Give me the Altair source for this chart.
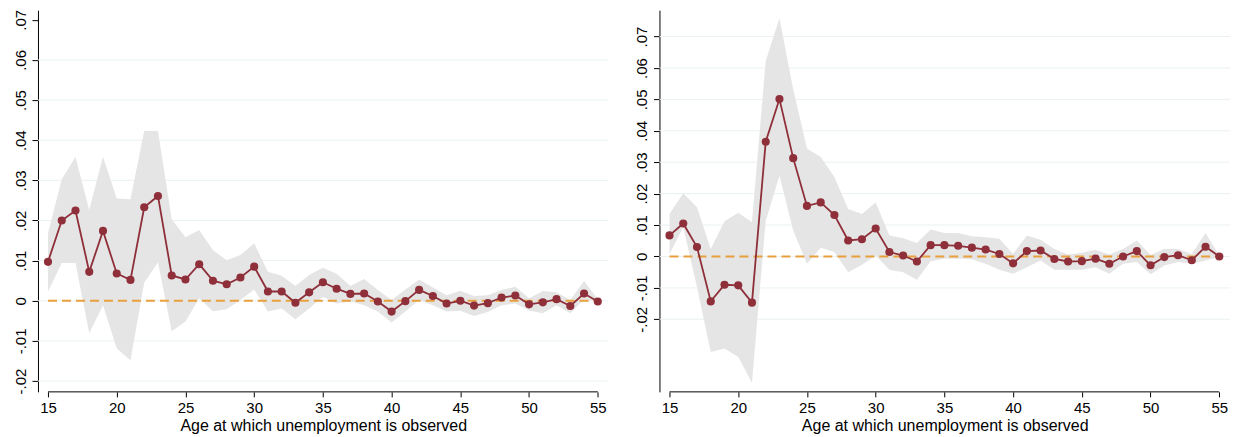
import altair as alt
import pandas as pd

ages = list(range(15, 56))

left_coef = [0.0097, 0.0200, 0.0225, 0.0072, 0.0174, 0.0068, 0.0052, 0.0233, 0.0261, 0.0063,
             0.0053, 0.0091, 0.0050, 0.0041, 0.0058, 0.0085, 0.0023, 0.0023, -0.0005, 0.0021,
             0.0046, 0.0030, 0.0017, 0.0018, -0.0002, -0.0027, -0.0001, 0.0027, 0.0012, -0.0007,
             0.0000, -0.0012, -0.0006, 0.0008, 0.0013, -0.0009, -0.0004, 0.0004, -0.0013, 0.0018,
             -0.0002]
left_hi = [0.0168, 0.0303, 0.0358, 0.0226, 0.0359, 0.0255, 0.0253, 0.0423, 0.0423, 0.0203,
           0.0158, 0.0176, 0.0126, 0.0101, 0.0114, 0.0143, 0.0072, 0.0062, 0.0037, 0.0064,
           0.0082, 0.0067, 0.0037, 0.0054, 0.0027, 0.0002, 0.0028, 0.0053, 0.0033, 0.0014,
           0.0025, 0.0012, 0.0014, 0.0027, 0.0035, 0.0006, 0.0024, 0.0021, 0.0002, 0.0049,
           0.0004]
left_lo = [0.0023, 0.0094, 0.0094, -0.0081, -0.0011, -0.0119, -0.0148, 0.0045, 0.0096, -0.0076,
           -0.0052, 0.0006, -0.0026, -0.0021, 0.0002, 0.0028, -0.0027, -0.0019, -0.0046, -0.0019,
           0.0010, -0.0007, -0.0002, -0.0011, -0.0027, -0.0054, -0.0027, 0.0002, -0.0011, -0.0027,
           -0.0025, -0.0038, -0.0028, -0.0011, -0.0007, -0.0024, -0.0031, -0.0011, -0.0031, 0.0004,
           -0.0002]

right_coef = [0.0067, 0.0105, 0.0030, -0.0143, -0.0090, -0.0092, -0.0147, 0.0365, 0.0501, 0.0313,
              0.0161, 0.0172, 0.0132, 0.0051, 0.0055, 0.0089, 0.0014, 0.0003, -0.0016, 0.0036,
              0.0036, 0.0034, 0.0028, 0.0022, 0.0008, -0.0022, 0.0017, 0.0019, -0.0008, -0.0016,
              -0.0015, -0.0007, -0.0023, 0.0000, 0.0017, -0.0028, -0.0002, 0.0004, -0.0012, 0.0031,
              0.0000]
right_hi = [0.0135, 0.0201, 0.0157, 0.0024, 0.0112, 0.0139, 0.0109, 0.0622, 0.0758, 0.0532,
            0.0344, 0.0317, 0.0252, 0.0151, 0.0135, 0.0172, 0.0067, 0.0058, 0.0043, 0.0086,
            0.0075, 0.0075, 0.0064, 0.0061, 0.0056, 0.0008, 0.0067, 0.0053, 0.0024, 0.0006,
            0.0012, 0.0021, 0.0006, 0.0024, 0.0051, 0.0005, 0.0024, 0.0024, 0.0008, 0.0075,
            0.0003]
right_lo = [0.0008, 0.0093, -0.0097, -0.0304, -0.0293, -0.0320, -0.0402, 0.0114, 0.0257, 0.0083,
            -0.0023, 0.0028, 0.0014, -0.0050, -0.0026, 0.0003, -0.0042, -0.0050, -0.0074, -0.0015,
            -0.0007, -0.0007, -0.0009, -0.0023, -0.0042, -0.0055, -0.0034, -0.0013, -0.0042, -0.0042,
            -0.0042, -0.0034, -0.0055, -0.0023, -0.0018, -0.0057, -0.0029, -0.0018, -0.0023, -0.0013,
            -0.0002]

x_ticks = [15, 20, 25, 30, 35, 40, 45, 50, 55]
y_ticks = [-0.02, -0.01, 0, 0.01, 0.02, 0.03, 0.04, 0.05, 0.06, 0.07]
left_grid = [-0.02, -0.01, 0, 0.01, 0.02, 0.03, 0.04, 0.05, 0.06]
right_grid = [-0.02, -0.01, 0, 0.01, 0.02, 0.03, 0.04, 0.05, 0.06, 0.07]
x_title = "Age at which unemployment is observed"

X_DOMAIN = [14.27, 55.78]
LEFT_YDOM = [-0.0227, 0.0724]
RIGHT_YDOM = [-0.0431, 0.0784]

FONT = "Liberation Sans"
RED = "#8E2F3A"
ORANGE = "#E8A03E"
BAND = "#E5E5E5"
GRID = "#EAF1F3"

label_expr = ("datum.value == 0 ? '0' : (datum.value < 0 ? '-' : '') + '.' + "
              "format(abs(datum.value) * 100, '02d')")

x_axis = alt.Axis(values=x_ticks, title=x_title, domain=False, grid=False,
                  tickSize=5, tickColor="black", tickWidth=1,
                  labelFont=FONT, labelFontSize=15, labelColor="black", labelPadding=4,
                  titleFont=FONT, titleFontSize=16, titleFontWeight="normal",
                  titleColor="black", titlePadding=2)
y_axis = alt.Axis(values=y_ticks, title="", grid=False, domain=True,
                  domainColor="black", domainWidth=1,
                  tickSize=6, tickColor="black", tickWidth=1,
                  labelFont=FONT, labelFontSize=15, labelColor="black",
                  labelAngle=270, labelAlign="center", labelBaseline="alphabetic",
                  labelPadding=6.5, labelExpr=label_expr,
                  minExtent=30, maxExtent=30)


def panel(coef, lo, hi, ydom, grid_vals):
    xs = alt.Scale(domain=X_DOMAIN, nice=False, zero=False)
    ys = alt.Scale(domain=ydom, nice=False, zero=False)
    df = pd.DataFrame({"age": ages, "coef": coef, "lo": lo, "hi": hi})
    gdf = pd.DataFrame({"g": grid_vals})
    zdf = pd.DataFrame({"x0": [x_ticks[0]], "x1": [x_ticks[-1]], "y0": [0.0]})
    adf = pd.DataFrame({"x0": [x_ticks[0]], "x1": [x_ticks[-1]], "y0": [ydom[0]]})

    grid = alt.Chart(gdf).mark_rule(color=GRID, strokeWidth=1).encode(
        y=alt.Y("g:Q", scale=ys, axis=y_axis))
    band = alt.Chart(df).mark_area(color=BAND, opacity=1).encode(
        x=alt.X("age:Q", scale=xs, axis=x_axis),
        y=alt.Y("lo:Q", scale=ys, axis=y_axis),
        y2="hi:Q")
    zero = alt.Chart(zdf).mark_rule(color=ORANGE, strokeWidth=2, strokeDash=[9, 5]).encode(
        x=alt.X("x0:Q", scale=xs, axis=x_axis), x2="x1:Q",
        y=alt.Y("y0:Q", scale=ys, axis=y_axis))
    xline = alt.Chart(adf).mark_rule(color="black", strokeWidth=1).encode(
        x=alt.X("x0:Q", scale=xs, axis=x_axis), x2="x1:Q",
        y=alt.Y("y0:Q", scale=ys, axis=y_axis))
    line = alt.Chart(df).mark_line(color=RED, strokeWidth=1.8).encode(
        x=alt.X("age:Q", scale=xs, axis=x_axis),
        y=alt.Y("coef:Q", scale=ys, axis=y_axis))
    pts = alt.Chart(df).mark_circle(color=RED, size=66, opacity=1).encode(
        x=alt.X("age:Q", scale=xs, axis=x_axis),
        y=alt.Y("coef:Q", scale=ys, axis=y_axis))
    return alt.layer(grid, band, zero, xline, line, pts).properties(width=571, height=382)


left = panel(left_coef, left_lo, left_hi, LEFT_YDOM, left_grid)
right = panel(right_coef, right_lo, right_hi, RIGHT_YDOM, right_grid)

chart = alt.hconcat(left, right, spacing=20).properties(
    padding={"left": 0, "top": 1, "right": 0, "bottom": 0},
    background="white"
).configure_view(stroke=None)

chart.save("out.html", embed_options={"renderer": "svg", "actions": False})
